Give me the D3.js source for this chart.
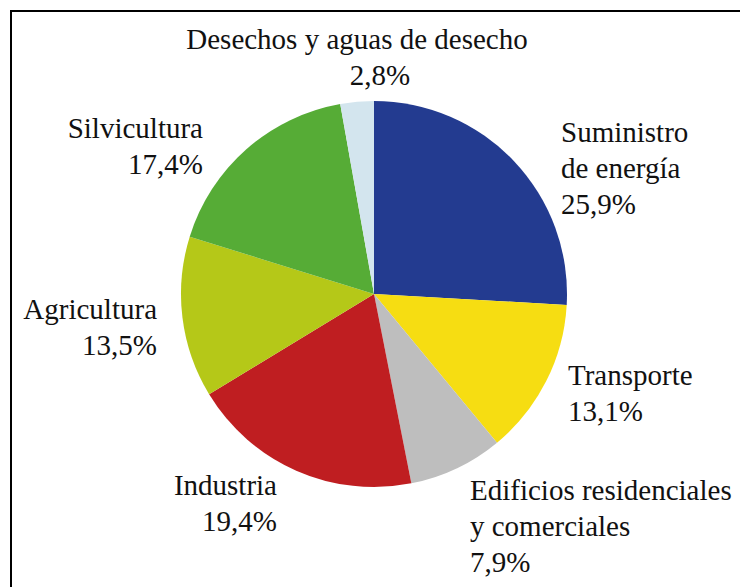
<!DOCTYPE html>
<html>
<head>
<meta charset="utf-8">
<script src="https://cdn.jsdelivr.net/npm/d3@7"></script>
<style>
  body { margin: 0; background: #fff; }
</style>
</head>
<body>
<svg id="chart" width="740" height="587"></svg>
<script>
// sectors, clockwise from 12 o'clock
var categories = ["Suministro de energía", "Transporte", "Edificios residenciales y comerciales",
    "Industria", "Agricultura", "Silvicultura", "Desechos y aguas de desecho"];
var values = [25.9, 13.1, 7.9, 19.4, 13.5, 17.4, 2.8];
var valueLabels = ["25,9%", "13,1%", "7,9%", "19,4%", "13,5%", "17,4%", "2,8%"];
// label lines as they are broken in the picture
var labelLines = [
    ["Suministro", "de energía", "25,9%"],
    ["Transporte", "13,1%"],
    ["Edificios residenciales", "y comerciales", "7,9%"],
    ["Industria", "19,4%"],
    ["Agricultura", "13,5%"],
    ["Silvicultura", "17,4%"],
    ["Desechos y aguas de desecho", "2,8%"]
];
var colors = ["#233b90", "#f6dd12", "#bebebe", "#bf1e21", "#b5c818", "#56ac36", "#d3e5ee"];

var svg = d3.select("#chart");
var cx = 374, cy = 294, radius = 193;
var fontStack = "Tinos, Times, 'Nimbus Roman', 'Nimbus Roman No9 L', FreeSerif, 'Noto Serif', 'Liberation Serif', 'DejaVu Serif', serif";

// frame (only top and left edges are inside the picture)
svg.append("path")
    .attr("d", "M11,587 L11,11 L740,11")
    .attr("fill", "none")
    .attr("stroke", "#000")
    .attr("stroke-width", 2);

var pie = d3.pie().sort(null).value(function (d) { return d; });
var arc = d3.arc().innerRadius(0).outerRadius(radius);

var g = svg.append("g").attr("transform", "translate(" + cx + "," + cy + ")");
g.selectAll("path.slice")
    .data(pie(values))
    .enter()
    .append("path")
    .attr("class", "slice")
    .attr("d", arc)
    .attr("fill", function (d, i) { return colors[i]; });

// label placement: x, y of first baseline, anchor
var labelPos = [
    { x: 561, y: 142, anchor: "start" },
    { x: 568, y: 385, anchor: "start" },
    { x: 470, y: 500, anchor: "start" },
    { x: 277, y: 495, anchor: "end" },
    { x: 157, y: 319, anchor: "end" },
    { x: 203, y: 138, anchor: "end" },
    { x: 357, y: 49, anchor: "middle" }
];
var lineStep = 36;

labelLines.forEach(function (lines, i) {
    var p = labelPos[i];
    var t = svg.append("text")
        .attr("text-anchor", p.anchor)
        .attr("font-family", fontStack)
        .attr("font-size", 29)
        .attr("fill", "#111");
    lines.forEach(function (ln, j) {
        var tx = p.x;
        if (i === 6 && j === 1) tx = 380; // 2,8% sits a little right of the title's centre
        t.append("tspan")
            .attr("x", tx)
            .attr("y", p.y + j * lineStep)
            .text(ln);
    });
});
</script>
</body>
</html>
